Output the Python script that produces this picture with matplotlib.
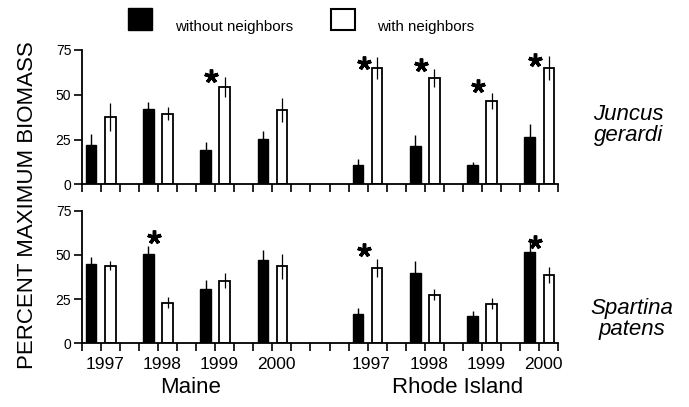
import numpy as np
import matplotlib
matplotlib.use("Agg")
import matplotlib.pyplot as plt
from matplotlib.patches import Rectangle
import matplotlib.transforms as mtransforms

plt.rcParams['font.family'] = ['Liberation Sans', 'DejaVu Sans']

# data
years = ['1997', '1998', '1999', '2000', '1997', '1998', '1999', '2000']
sites = ['Maine', 'Rhode Island']

# Juncus gerardi (top panel)
jun_without = [22, 42, 19, 25.5, 10.5, 21.5, 10.5, 26.5]
jun_without_err = [6, 4, 4.5, 4.5, 3.5, 6, 2, 7]
jun_with = [37.5, 39.5, 54.5, 41.5, 65, 59.5, 46.5, 65]
jun_with_err = [8, 3.5, 5.5, 6.5, 6, 5, 4.5, 6.5]

# Spartina patens (bottom panel)
spa_without = [45, 50.5, 30.5, 47, 16.5, 39.5, 15.5, 51.5]
spa_without_err = [4, 4.5, 5.5, 6, 3.5, 7, 2.5, 6]
spa_with = [44, 23, 35.5, 43.5, 42.5, 27.5, 22.5, 38.5]
spa_with_err = [2.5, 3, 4, 7, 5, 3, 3, 4.5]

# significant differences (asterisks): year index and height
jun_star_idx = [2, 4, 5, 6, 7]
jun_star_y = [60.5, 67.5, 66.5, 55, 69.5]
spa_star_idx = [1, 4, 7]
spa_star_y = [60, 52.5, 57.5]

# slot layout: each year pair takes 3 slots, with a gap between sites
pos_without = np.array([0, 3, 6, 9, 14, 17, 20, 23])
pos_with = pos_without + 1

fig = plt.figure(figsize=(6.89, 4.07), dpi=100)
ax1 = fig.add_axes([0.1186, 0.5472, 0.6917, 0.330])
ax2 = fig.add_axes([0.1186, 0.1565, 0.6917, 0.3258])


def draw_panel(ax, wo, wo_err, wi, wi_err, star_idx, star_y, show_years):
    ax.bar(pos_without, wo, width=0.55, color='black', edgecolor='black', linewidth=1.0)
    ax.bar(pos_with, wi, width=0.55, color='white', edgecolor='black', linewidth=1.3)
    ax.errorbar(pos_without, wo, yerr=wo_err, fmt='none', ecolor='black', elinewidth=1.0, capsize=0)
    ax.errorbar(pos_with, wi, yerr=wi_err, fmt='none', ecolor='black', elinewidth=0.9, capsize=0)
    sx = pos_without[star_idx] + 0.3
    ax.plot(sx, star_y, linestyle='none', marker=(5, 2, 0), markersize=10,
            markeredgewidth=2.5, color='black')
    ax.set_xlim(-0.5, 24.5)
    ax.set_ylim(0, 75)
    ax.set_yticks([0, 25, 50, 75])
    ax.set_xticks(np.arange(-0.5, 25, 1.0))
    ax.set_xticklabels([])
    ax.tick_params(axis='both', which='major', direction='out', length=6, width=1.2,
                   labelsize=10, pad=1.5)
    for s in ['top', 'right']:
        ax.spines[s].set_visible(False)
    for s in ['left', 'bottom']:
        ax.spines[s].set_linewidth(1.3)
    if show_years:
        ax.set_xticks(pos_without + 0.7, years, minor=True)
        ax.tick_params(axis='x', which='minor', length=0, labelsize=12.5, pad=10)


draw_panel(ax1, jun_without, jun_without_err, jun_with, jun_with_err,
           jun_star_idx, jun_star_y, False)
draw_panel(ax2, spa_without, spa_without_err, spa_with, spa_with_err,
           spa_star_idx, spa_star_y, True)

# site names under the year labels
trans = mtransforms.blended_transform_factory(ax2.transData, fig.transFigure)
ax2.text(pos_with[:4].mean() - 0.3, 0.047, sites[0], transform=trans, ha='center', va='center', fontsize=16)
ax2.text(pos_with[4:].mean() - 0.3, 0.047, sites[1], transform=trans, ha='center', va='center', fontsize=16)

# species labels
fig.text(0.912, 0.693, 'Juncus\ngerardi', ha='center', va='center', fontsize=16,
         style='italic', linespacing=1.05)
fig.text(0.917, 0.216, 'Spartina\npatens', ha='center', va='center', fontsize=16,
         style='italic', linespacing=1.05)

fig.text(0.04, 0.497, 'PERCENT MAXIMUM BIOMASS', rotation=90, ha='center', va='center',
         fontsize=16)

# legend
fig.patches.append(Rectangle((0.1858, 0.927), 0.0348, 0.054, transform=fig.transFigure,
                             facecolor='black', edgecolor='black', linewidth=1.0))
fig.text(0.254, 0.925, 'without neighbors', ha='left', va='baseline', fontsize=10.8)
fig.patches.append(Rectangle((0.4804, 0.927), 0.0348, 0.051, transform=fig.transFigure,
                             facecolor='white', edgecolor='black', linewidth=1.5))
fig.text(0.547, 0.925, 'with neighbors', ha='left', va='baseline', fontsize=10.8)

fig.savefig('out.png', dpi=100)
